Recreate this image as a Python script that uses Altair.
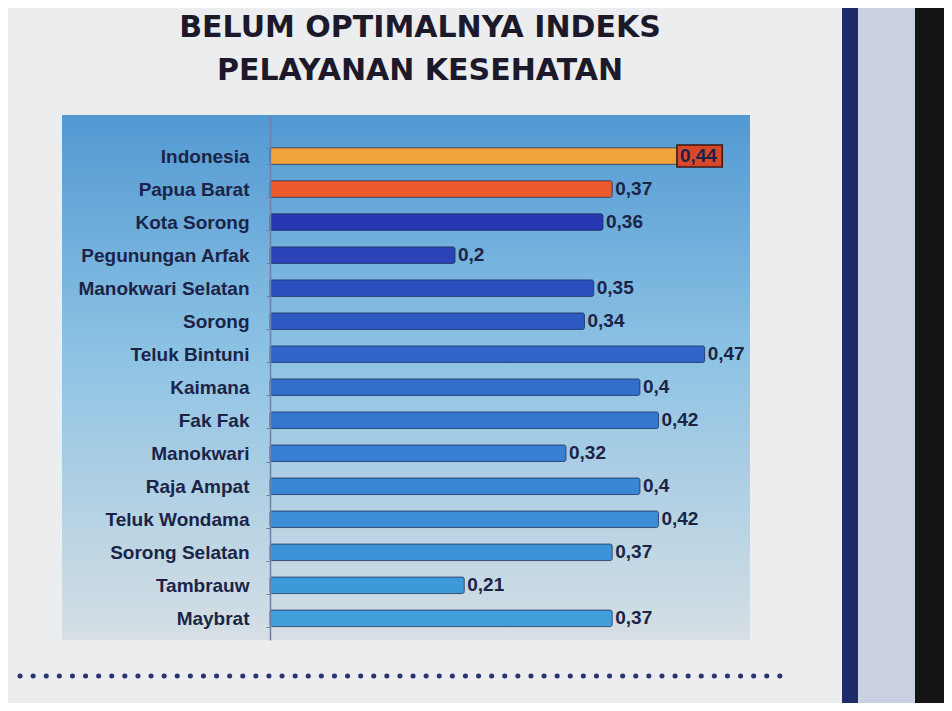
import altair as alt
import pandas as pd

categories = ["Indonesia", "Papua Barat", "Kota Sorong", "Pegunungan Arfak",
              "Manokwari Selatan", "Sorong", "Teluk Bintuni", "Kaimana", "Fak Fak",
              "Manokwari", "Raja Ampat", "Teluk Wondama", "Sorong Selatan",
              "Tambrauw", "Maybrat"]
values = [0.44, 0.37, 0.36, 0.2, 0.35, 0.34, 0.47, 0.4, 0.42, 0.32, 0.4, 0.42,
          0.37, 0.21, 0.37]
labels = ["0,44", "0,37", "0,36", "0,2", "0,35", "0,34", "0,47", "0,4", "0,42",
          "0,32", "0,4", "0,42", "0,37", "0,21", "0,37"]
title_lines = ["BELUM OPTIMALNYA INDEKS", "PELAYANAN KESEHATAN"]

bar_colors = ["#F2A43A", "#EA5A2C", "#2639B2", "#2A44B8", "#2C4FBE", "#2E59C3",
              "#3064C8", "#326ECC", "#3477CF", "#367FD2", "#3887D4", "#3A8ED6",
              "#3C94D8", "#3E99D9", "#409EDB"]

df = pd.DataFrame({"region": categories, "value": values, "label": labels})
one = pd.DataFrame({"k": [0]})

W, H = 688, 525
LABEL_FONT = "Liberation Sans"
TEXT_COLOR = "#1B2447"

x_scale = alt.Scale(domain=[-0.225, 0.519], nice=False, zero=False)
y_scale = alt.Scale(domain=categories, paddingInner=0.5, paddingOuter=0.7, align=0.71)

y_enc = alt.Y("region:N", sort=categories, scale=y_scale,
              axis=alt.Axis(title=None, offset=-208, labelFont=LABEL_FONT,
                            labelFontWeight="bold", labelFontSize=19,
                            labelColor=TEXT_COLOR, domainColor="#6E7FA8",
                            domainWidth=1.5, tickColor="#6E7FA8", tickSize=4,
                            tickBand="extent", labelPadding=17, zindex=1,
                            grid=False))

gradient = alt.Gradient(
    gradient="linear", x1=0, x2=0, y1=0, y2=1,
    stops=[alt.GradientStop(color="#5299D2", offset=0),
           alt.GradientStop(color="#8CC2E4", offset=0.45),
           alt.GradientStop(color="#D6DFE4", offset=1)])

bg = alt.Chart(one).mark_rect(fill=gradient).encode(
    x=alt.value(0), x2=alt.value(W), y=alt.value(0), y2=alt.value(H))

strip1 = alt.Chart(one).mark_rect(fill="#1E2A6A").encode(
    x=alt.value(780), x2=alt.value(796), y=alt.value(-107), y2=alt.value(588))
strip2 = alt.Chart(one).mark_rect(fill="#C9D0E2").encode(
    x=alt.value(796), x2=alt.value(853), y=alt.value(-107), y2=alt.value(588))
strip3 = alt.Chart(one).mark_rect(fill="#141414").encode(
    x=alt.value(853), x2=alt.value(890), y=alt.value(-107), y2=alt.value(588))

dots = alt.Chart(one).mark_rule(strokeDash=[0.1, 13], strokeCap="round",
                                strokeWidth=5, color="#2A3570").encode(
    x=alt.value(-42), x2=alt.value(718), y=alt.value(561))

base = alt.Chart(df)

bars = base.mark_bar(stroke="#1A2350", strokeWidth=1, strokeOpacity=0.7,
                     cornerRadius=2).encode(
    x=alt.X("value:Q", scale=x_scale, axis=None),
    x2=alt.datum(0),
    y=y_enc,
    color=alt.Color("region:N", scale=alt.Scale(domain=categories, range=bar_colors),
                    legend=None))

box = base.transform_filter(alt.datum.region == "Indonesia").transform_calculate(
    xend="datum.value + 0.049").mark_bar(
    height=22, fill="#D9472A", stroke="#3A1A10", strokeWidth=1.5).encode(
    x=alt.X("value:Q", scale=x_scale, axis=None),
    x2=alt.X2("xend:Q"),
    y=y_enc)

text = base.mark_text(align="left", baseline="middle", dx=3, font=LABEL_FONT,
                      fontWeight="bold", fontSize=19, color=TEXT_COLOR).encode(
    x=alt.X("value:Q", scale=x_scale, axis=None),
    y=y_enc,
    text="label:N")

chart = alt.layer(bg, strip1, strip2, strip3, dots, bars, box, text).properties(
    width=W, height=H,
    title=alt.TitleParams(text=title_lines, font="DejaVu Sans", fontWeight="bold",
                          fontSize=30, lineHeight=43, color="#1C1A2A",
                          anchor="middle", frame="group", dx=14, offset=-78),
    autosize=alt.AutoSizeParams(type="none"),
    padding={"left": 54, "top": 107, "right": 194, "bottom": 63},
    background="#ECEDEF",
).configure_view(stroke=None)

chart.save("out.html", embed_options={"renderer": "svg", "actions": False})
